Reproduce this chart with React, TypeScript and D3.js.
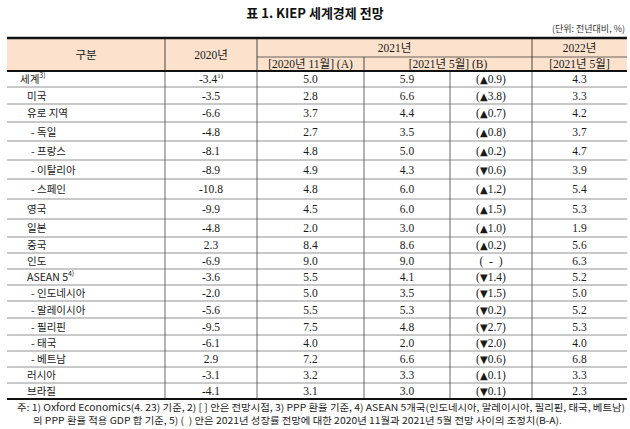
import React from "react";
import * as d3 from "d3";

const title = "표 1. KIEP 세계경제 전망";
const unitNote = "(단위: 전년대비, %)";

const categories = [
  "세계", "미국", "유로 지역", "- 독일", "- 프랑스", "- 이탈리아", "- 스페인",
  "영국", "일본", "중국", "인도", "ASEAN 5", "- 인도네시아", "- 말레이시아",
  "- 필리핀", "- 태국", "- 베트남", "러시아", "브라질",
];
const labelNotes = ["3)", "", "", "", "", "", "", "", "", "", "", "4)", "", "", "", "", "", "", ""];
const values2020 = [-3.4, -3.5, -6.6, -4.8, -8.1, -8.9, -10.8, -9.9, -4.8, 2.3, -6.9, -3.6, -2.0, -5.6, -9.5, -6.1, 2.9, -3.1, -4.1];
const value2020Notes = ["1)", "", "", "", "", "", "", "", "", "", "", "", "", "", "", "", "", "", ""];
const valuesA = [5.0, 2.8, 3.7, 2.7, 4.8, 4.9, 4.8, 4.5, 2.0, 8.4, 9.0, 5.5, 5.0, 5.5, 7.5, 4.0, 7.2, 3.2, 3.1];
const valuesB = [5.9, 6.6, 4.4, 3.5, 5.0, 4.3, 6.0, 6.0, 3.0, 8.6, 9.0, 4.1, 3.5, 5.3, 4.8, 2.0, 6.6, 3.3, 3.0];
const changes = [0.9, 3.8, 0.7, 0.8, 0.2, -0.6, 1.2, 1.5, 1.0, 0.2, 0, -1.4, -1.5, -0.2, -2.7, -2.0, -0.6, 0.1, -0.1];
const values2022 = [4.3, 3.3, 4.2, 3.7, 4.7, 3.9, 5.4, 5.3, 1.9, 5.6, 6.3, 5.2, 5.0, 5.2, 5.3, 4.0, 6.8, 3.3, 2.3];

const headerTop = ["구분", "2020년", "2021년", "2022년"];
const headerSub = ["[2020년 11월] (A)", "[2021년 5월] (B)", "[2021년 5월]"];
const footnote1 = "주: 1) Oxford Economics(4. 23) 기준, 2) [ ] 안은 전망시점, 3) PPP 환율 기준, 4) ASEAN 5개국(인도네시아, 말레이시아, 필리핀, 태국, 베트남)";
const footnote2 = "의 PPP 환율 적용 GDP 합 기준, 5) (\u00a0\u00a0) 안은 2021년 성장률 전망에 대한 2020년 11월과 2021년 5월 전망 사이의 조정치(B-A).";

// layout (styling only)
const W = 630, H = 429;
const colEdges = [7, 165, 257, 364, 450, 532, 627];
const rowHeights = [16, 17, 18, 19, 19, 19, 20, 20, 18, 16, 16, 16, 16, 17, 17, 16, 16, 16, 16];
const tableTop = 38, headerMid = 57, headerBottom = 71;

const serif = "'Liberation Serif', 'Times New Roman', 'Noto Sans CJK KR', serif";
const kr = "'Noto Sans CJK KR', 'Noto Sans', sans-serif";

const fmt = d3.format(".1f");
const fmtSigned = (v: number) => (v < 0 ? "-" + fmt(-v) : fmt(v));

function ChangeText({ v }: { v: number }) {
  if (v === 0) return <>{"(\u00a0\u00a0-\u00a0\u00a0)"}</>;
  return (
    <>
      {"("}
      <tspan fontFamily="'DejaVu Sans', sans-serif" fontSize={10}>{v > 0 ? "▲" : "▼"}</tspan>
      {fmt(Math.abs(v)) + ")"}
    </>
  );
}

export default function App() {
  const rowStarts = [0, ...Array.from(d3.cumsum(rowHeights))];
  const total = d3.sum(rowHeights);
  const y = d3.scaleLinear().domain([0, total]).range([headerBottom, headerBottom + total]);
  const rowY = (i: number) => y(rowStarts[i]);
  const rowC = (i: number) => (y(rowStarts[i]) + y(rowStarts[i + 1])) / 2;
  const colC = (c: number) => (colEdges[c] + colEdges[c + 1]) / 2;
  const tableBottom = y(total);
  const headerFill = "#fce2cd";
  const fs = 11.5;
  const ink = "#1a1a1a";

  const indentOf = (s: string, i: number) => (i === 0 ? 20 : s.startsWith("- ") ? 31 : 27);

  return (
    <svg width={W} height={H} style={{ position: "absolute", left: 0, top: 0, background: "#fff" }}>
      <rect width={W} height={H} fill="#fff" />
      <text x={315} y={18} textAnchor="middle" fontFamily={kr} fontWeight={700} fontSize={13} fill="#111">{title}</text>
      <text x={625} y={32} textAnchor="end" fontFamily={kr} fontSize={9} fill="#333">{unitNote}</text>

      <rect x={colEdges[0]} y={tableTop} width={colEdges[6] - colEdges[0]} height={headerBottom - tableTop} fill={headerFill} />

      <line x1={colEdges[2]} x2={colEdges[6]} y1={headerMid} y2={headerMid} stroke="#444" strokeWidth={0.8} />
      {[1, 2, 5].map((c) => (
        <line key={"hv" + c} x1={colEdges[c]} x2={colEdges[c]} y1={tableTop} y2={headerBottom} stroke="#333" strokeWidth={0.9} />
      ))}
      <line x1={colEdges[3]} x2={colEdges[3]} y1={headerMid} y2={headerBottom} stroke="#333" strokeWidth={0.9} />

      <g fontFamily={serif} fontSize={fs} fill={ink} textAnchor="middle">
        <text x={colC(0)} y={(tableTop + headerBottom) / 2 + 4}>{headerTop[0]}</text>
        <text x={colC(1)} y={(tableTop + headerBottom) / 2 + 4}>{headerTop[1]}</text>
        <text x={(colEdges[2] + colEdges[5]) / 2} y={(tableTop + headerMid) / 2 + 4}>{headerTop[2]}</text>
        <text x={colC(5)} y={(tableTop + headerMid) / 2 + 4}>{headerTop[3]}</text>
        <text x={colC(2)} y={(headerMid + headerBottom) / 2 + 4}>{headerSub[0]}</text>
        <text x={(colEdges[3] + colEdges[5]) / 2} y={(headerMid + headerBottom) / 2 + 4}>{headerSub[1]}</text>
        <text x={colC(5)} y={(headerMid + headerBottom) / 2 + 4}>{headerSub[2]}</text>
      </g>

      {categories.slice(1).map((_, k) => (
        <line key={"rl" + k} x1={colEdges[0]} x2={colEdges[6]} y1={rowY(k + 1)} y2={rowY(k + 1)} stroke="#777" strokeWidth={0.8} />
      ))}
      {[1, 2, 3, 4, 5].map((c) => (
        <line key={"vl" + c} x1={colEdges[c]} x2={colEdges[c]} y1={headerBottom} y2={tableBottom} stroke="#444" strokeWidth={0.8} />
      ))}

      {categories.map((cat, i) => (
        <g key={"r" + i} fill={ink}>
          <text x={indentOf(cat, i)} y={rowC(i) + 4} fontFamily={kr} fontSize={10.5}>
            {cat}
            {labelNotes[i] && <tspan fontSize={7} dy={-5}>{labelNotes[i]}</tspan>}
          </text>
          <text x={colC(1)} y={rowC(i) + 4} textAnchor="middle" fontFamily={serif} fontSize={fs}>
            {fmtSigned(values2020[i])}
            {value2020Notes[i] && <tspan fontSize={7} dy={-5}>{value2020Notes[i]}</tspan>}
          </text>
          <text x={colC(2)} y={rowC(i) + 4} textAnchor="middle" fontFamily={serif} fontSize={fs}>{fmt(valuesA[i])}</text>
          <text x={colC(3)} y={rowC(i) + 4} textAnchor="middle" fontFamily={serif} fontSize={fs}>{fmt(valuesB[i])}</text>
          <text x={colC(4)} y={rowC(i) + 4} textAnchor="middle" fontFamily={serif} fontSize={fs}><ChangeText v={changes[i]} /></text>
          <text x={colC(5)} y={rowC(i) + 4} textAnchor="middle" fontFamily={serif} fontSize={fs}>{fmt(values2022[i])}</text>
        </g>
      ))}

      <line x1={colEdges[0]} x2={colEdges[6]} y1={tableTop} y2={tableTop} stroke="#111" strokeWidth={2.5} />
      <line x1={colEdges[0]} x2={colEdges[6]} y1={headerBottom} y2={headerBottom} stroke="#111" strokeWidth={2} />
      <line x1={colEdges[0]} x2={colEdges[6]} y1={tableBottom} y2={tableBottom} stroke="#111" strokeWidth={2} />

      <text x={17} y={411} fontFamily={kr} fontSize={9.5} fill="#222" textLength={608} lengthAdjust="spacingAndGlyphs">{footnote1}</text>
      <text x={33} y={424} fontFamily={kr} fontSize={9.5} fill="#222" textLength={529} lengthAdjust="spacingAndGlyphs">{footnote2}</text>
    </svg>
  );
}
